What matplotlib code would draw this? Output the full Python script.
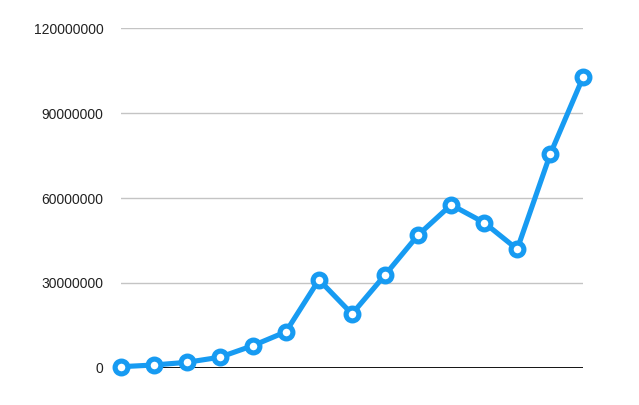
import numpy as np
import matplotlib
matplotlib.use("Agg")
import matplotlib.pyplot as plt

# values (15 points, no x labels shown)
points = list(range(15))
values = [350000, 950000, 1900000, 3700000, 7800000, 12700000, 31100000,
          19000000, 32800000, 46900000, 57600000, 51300000, 41900000,
          75500000, 102900000]
yticks = [0, 30000000, 60000000, 90000000, 120000000]
ytick_labels = ["0", "30000000", "60000000", "90000000", "120000000"]

plt.rcParams['font.family'] = ['Liberation Sans', 'DejaVu Sans']

fig = plt.figure(figsize=(6.39, 4.05), dpi=100)
ax = fig.add_axes([0.1889, 0.0921, 0.9128 - 0.1889, 0.930 - 0.0921])

blue = '#179bf2'

for t in yticks[1:]:
    ax.axhline(t, color='#c4c4c4', lw=1.0, zorder=1)
ax.axhline(0, color='black', lw=1.3, zorder=2)

ax.plot(points, values, color=blue, lw=3.7, marker='o', ms=9.2,
        mfc='white', mec=blue, mew=3.7, clip_on=False, zorder=3)

ax.set_xlim(0, 14)
ax.set_ylim(0, 120000000)
ax.set_xticks([])
ax.set_yticks(yticks)
ax.set_yticklabels(ytick_labels)
ax.tick_params(axis='y', length=0, pad=12.5, labelsize=10, labelcolor='#222222')
for s in ax.spines.values():
    s.set_visible(False)

fig.savefig("out.png", dpi=100)
